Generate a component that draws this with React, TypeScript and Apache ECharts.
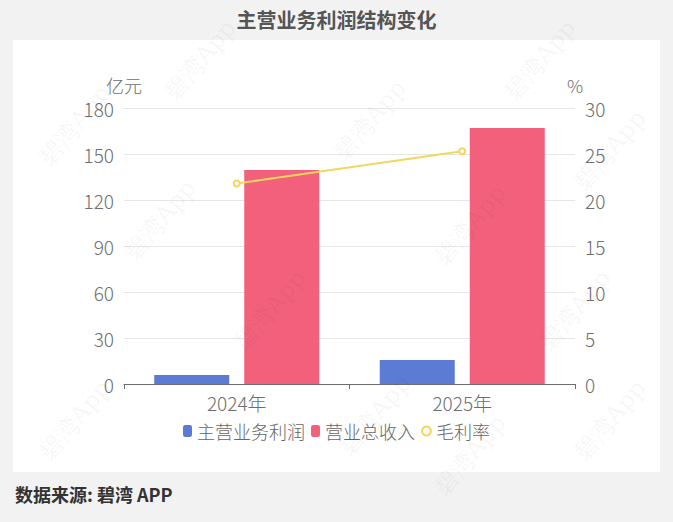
import React, { useEffect, useRef } from "react";
import * as echarts from "echarts";

const categories = ["2024年", "2025年"];
const profit = [5.9, 15.7];
const revenue = [139.6, 167.0];
const margin = [21.8, 25.3];
const leftTicks = { min: 0, max: 180, interval: 30 };
const rightTicks = { min: 0, max: 30, interval: 5 };

const watermarkPos: [number, number][] = [
  [75, 125], [370, 120], [540, 60], [610, 150], [160, 220], [470, 225],
  [270, 310], [575, 310], [75, 420], [375, 415], [470, 455], [610, 420], [200, 60],
];

export default function App() {
  const ref = useRef<HTMLDivElement>(null);
  useEffect(() => {
    document.body.style.margin = "0";
    const chart = echarts.init(ref.current!, null, { renderer: "svg" });
    const axisLabelStyle = { color: "#6e6e6e", fontSize: 19, fontFamily: "Noto Sans CJK SC", fontWeight: 300 };
    chart.setOption({
      animation: false,
      backgroundColor: "#f2f2f2",
      title: {
        text: "主营业务利润结构变化",
        left: "center",
        top: 4,
        textStyle: { color: "#555", fontSize: 20, fontWeight: "bold", fontFamily: "Noto Sans CJK SC" },
      },
      graphic: [
        { type: "rect", left: 13, top: 40, shape: { width: 647, height: 432 }, style: { fill: "#ffffff" }, z: -10 },
        {
          type: "text", left: 15, top: 485,
          style: { text: "数据来源: 碧湾 APP", fill: "#333", fontSize: 18, fontWeight: "bold", fontFamily: "Noto Sans CJK SC" },
        },
        ...watermarkPos.map(([x, y]) => ({
          type: "text", x, y, rotation: (50 * Math.PI) / 180, z: 100, silent: true,
          style: { text: "碧湾App", fill: "rgba(0,0,0,0.05)", fontSize: 24, fontFamily: "DejaVu Serif, serif", align: "center", verticalAlign: "middle" },
        })),
      ],
      legend: {
        bottom: 77,
        left: "center",
        itemWidth: 9,
        itemHeight: 12,
        itemGap: 6,
        textStyle: { color: "#666", fontSize: 18, fontFamily: "Noto Sans CJK SC", fontWeight: 300 },
        data: [
          { name: "主营业务利润", icon: "roundRect" },
          { name: "营业总收入", icon: "roundRect" },
          { name: "毛利率", icon: "emptyCircle" },
        ],
      },
      grid: { left: 124, right: 98, top: 108, bottom: 138 },
      xAxis: {
        type: "category",
        data: categories,
        axisLine: { lineStyle: { color: "#6e6e6e" } },
        axisTick: { show: true, length: 5, lineStyle: { color: "#6e6e6e" } },
        axisLabel: { ...axisLabelStyle, margin: 9 },
      },
      yAxis: [
        {
          type: "value", name: "亿元", ...leftTicks,
          nameTextStyle: { ...axisLabelStyle, fontSize: 18, padding: [0, 0, 0, 0] },
          nameGap: 14,
          axisLabel: { ...axisLabelStyle, margin: 10 },
          splitLine: { lineStyle: { color: "#e6e6e6" } },
          axisLine: { show: false }, axisTick: { show: false },
        },
        {
          type: "value", name: "%", ...rightTicks,
          nameTextStyle: { ...axisLabelStyle, fontSize: 18, padding: [0, 0, 0, 0] },
          nameGap: 14,
          axisLabel: { ...axisLabelStyle, margin: 10 },
          splitLine: { show: false },
          axisLine: { show: false }, axisTick: { show: false },
        },
      ],
      series: [
        {
          name: "主营业务利润", type: "bar", data: profit, barWidth: 75, barGap: "20%",
          itemStyle: { color: "#5b7bd5" },
        },
        {
          name: "营业总收入", type: "bar", data: revenue, barWidth: 75,
          itemStyle: { color: "#f2607c" },
        },
        {
          name: "毛利率", type: "line", yAxisIndex: 1, data: margin,
          symbol: "emptyCircle", symbolSize: 6,
          lineStyle: { color: "#f5d65c", width: 2 },
          itemStyle: { color: "#f5d65c" },
        },
      ],
    });
    return () => chart.dispose();
  }, []);
  return <div ref={ref} style={{ width: 673, height: 522 }} />;
}
